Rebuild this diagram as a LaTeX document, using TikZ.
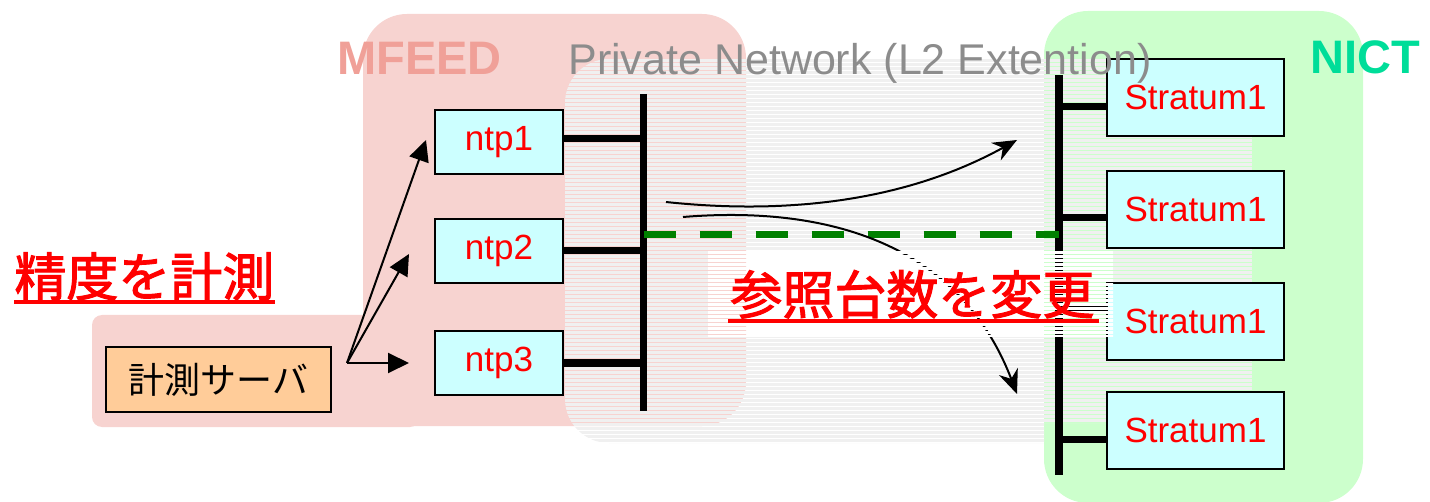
\documentclass[tikz,border=0pt]{standalone}
\usepackage{fontspec}
\setmainfont{Liberation Sans}
\newfontfamily\cjk[AutoFakeBold=2]{Noto Sans CJK JP}
\usetikzlibrary{arrows.meta,calc}
\definecolor{pinkbg}{HTML}{F7D3D0}
\definecolor{greenbg}{HTML}{CCFFCC}
\definecolor{graybd}{HTML}{F0F0F0}
\definecolor{cyanbox}{HTML}{CCFFFF}
\definecolor{orangebox}{HTML}{FFCC99}
\definecolor{mfeedc}{HTML}{F0A098}
\definecolor{nictc}{HTML}{00DD99}
\definecolor{pngray}{HTML}{8C8C8C}
\definecolor{dgreen}{HTML}{008000}
\begin{document}
\begin{tikzpicture}[x=0.5pt,y=-0.5pt,
  hostbox/.style={draw=black, line width=1pt, fill=cyanbox, text=red, font=\fontsize{17.5pt}{20pt}\selectfont, inner sep=0pt},
  ntpbox/.style={hostbox, minimum width=64pt, minimum height=32pt},
  stbox/.style={hostbox, minimum width=88.5pt, minimum height=38.5pt},
  busline/.style={line width=3.5pt, black},
  fanarrow/.style={line width=1pt, -{Triangle[length=10.5pt,width=10pt]}},
  curvearrow/.style={line width=1pt, -{Stealth[length=12pt,width=10pt]}},
  jtitle/.style={text=red, font=\cjk\bfseries\fontsize{26pt}{30pt}\selectfont, inner sep=0pt, anchor=base west},
  regionlabel/.style={anchor=base west, inner sep=0pt, font=\bfseries\fontsize{23.5pt}{28pt}\selectfont},
]
\useasboundingbox (0,0) rectangle (1430,502);

% regions
\fill[pinkbg, rounded corners=22pt] (363,14) rectangle (746,426);
\fill[pinkbg, rounded corners=5pt] (92,315) rectangle (420,427);
\fill[greenbg, rounded corners=22pt] (1044,11) rectangle (1363,503);

% private network (striped)
\begin{scope}
\clip (1044,443) [rounded corners=22pt] -- (565,443) -- (565,59) -- (1252,59) [sharp corners] -- (1252,423) -- (1044,423) -- cycle;
\foreach \i in {0,...,96} \fill[graybd] (565,{59+\i*4}) rectangle (1252,{59+\i*4+3});
\end{scope}

% nodes
\node[ntpbox] (ntp1) at (499,142) {ntp1};
\node[ntpbox] (ntp2) at (499,251) {ntp2};
\node[ntpbox] (ntp3) at (499,363) {ntp3};
\node[stbox] (s1) at (1195.5,97.5) {Stratum1};
\node[stbox] (s2) at (1195.5,209.5) {Stratum1};
\node[stbox] (s3) at (1195.5,321.5) {Stratum1};
\node[stbox] (s4) at (1195.5,430.5) {Stratum1};
\node[draw=black, line width=1pt, fill=orangebox, minimum width=112.5pt, minimum height=32.5pt, inner sep=0pt, font=\cjk\fontsize{18pt}{20pt}\selectfont] (srv) at (218.5,379.5) {計測サーバ};

% buses
\coordinate (mtop) at (643.5,94);
\coordinate (mbot) at (643.5,411);
\draw[busline] (mtop) -- (mbot);
\draw[busline] ([yshift=1.5pt]ntp1.east) -- ([yshift=1.5pt]ntp1.east -| mtop);
\draw[busline] (ntp2.east) -- (ntp2.east -| mtop);
\draw[busline] (ntp3.east) -- (ntp3.east -| mtop);

\coordinate (ntop) at (1058.5,75);
\coordinate (nbot) at (1058.5,475);
\draw[busline, line width=4pt] (ntop) -- (nbot);
\draw[busline] ([yshift=-4.75pt]s1.west) -- ([yshift=-4.75pt]s1.west -| ntop);
\draw[busline] ([yshift=-4.25pt]s2.west) -- ([yshift=-4.25pt]s2.west -| ntop);
\draw[busline] ([yshift=6.25pt]s3.west) -- ([yshift=6.25pt]s3.west -| ntop);
\draw[busline] ([yshift=-4.25pt]s4.west) -- ([yshift=-4.25pt]s4.west -| ntop);

% green dashed link
\draw[dgreen, line width=3.5pt, dash pattern=on 16pt off 12pt] (mtop |- 0,235) -- (ntop |- 0,235);

% fan arrows
\coordinate (fan) at ($(srv.east)+(15,-16.5)$);
\draw[fanarrow] (fan) -- ([shift={(-8,-2)}]ntp1.west);
\draw[fanarrow] (fan) -- ([shift={(-25,3)}]ntp2.west);
\draw[fanarrow] (fan) -- ([shift={(-25,0)}]ntp3.west);

% curved arrows
\coordinate (a1s) at (666,202);
\coordinate (a1e) at (1017,140);
\draw[curvearrow] (a1s) .. controls (760,212) and (890,210) .. (a1e);
\coordinate (a2s) at (683,217);
\coordinate (a2e) at (1017,394);
\draw[curvearrow] (a2s) .. controls (830,205) and (960,245) .. (a2e);

% white text box (striped)
\begin{scope}
\clip (708,252) rectangle (1113,337);
\foreach \i in {47,...,70} \fill[white] (700,{59+\i*4}) rectangle (1120,{59+\i*4+3});
\end{scope}

% texts
\node[jtitle] (t1) at (14,296) {精度を計測};
\draw[red, line width=2pt] ($(t1.base west)+(0,6)$) -- ($(t1.base east)+(0,6)$);
\node[jtitle] (t2) at (730,314) {参照台数を変更};
\draw[red, line width=2pt] ($(t2.base west)+(-2,7.5)$) -- ($(t2.base east)+(4,7.5)$);

\node[regionlabel, text=mfeedc] (mf) at (337,75) {MFEED};
\node[regionlabel, text=nictc] (nict) at (1310,74) {NICT};
\node[anchor=base west, inner sep=0pt, text=pngray, font=\fontsize{21.5pt}{25pt}\selectfont] (pn) at (568,75) {Private Network (L2 Extention)};
\end{tikzpicture}
\end{document}
